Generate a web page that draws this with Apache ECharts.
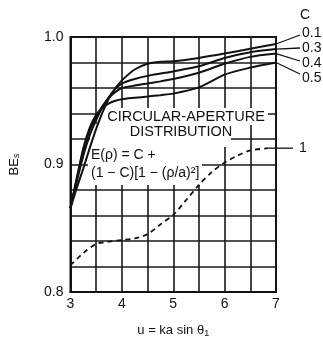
<!DOCTYPE html>
<html>
<head>
<meta charset="utf-8">
<script src="https://cdn.jsdelivr.net/npm/echarts@6/dist/echarts.min.js"></script>
<style>
html,body{margin:0;padding:0;background:#fff;}
#chart{width:323px;height:343px;}
</style>
</head>
<body>
<div id="chart"></div>
<script>
// ---- data ----
const uSolid = [3, 3.125, 3.25, 3.375, 3.5, 3.625, 3.75, 3.875, 4, 4.25, 4.5, 4.75, 5, 5.5, 6, 6.5, 7];
const be01 = [0.866, 0.882, 0.897, 0.913, 0.928, 0.941, 0.952, 0.960, 0.966, 0.9745, 0.979, 0.9805, 0.981, 0.9836, 0.987, 0.9908, 0.9945];
const be03 = [0.866, 0.887, 0.907, 0.923, 0.935, 0.945, 0.953, 0.9595, 0.9635, 0.967, 0.9695, 0.9713, 0.973, 0.977, 0.9835, 0.988, 0.9905];
const be04 = [0.866, 0.889, 0.911, 0.927, 0.937, 0.946, 0.9525, 0.957, 0.960, 0.962, 0.9636, 0.9652, 0.967, 0.972, 0.979, 0.9844, 0.987];
const be05 = [0.866, 0.890, 0.913, 0.929, 0.939, 0.9445, 0.948, 0.950, 0.9512, 0.9523, 0.9533, 0.9544, 0.9556, 0.9605, 0.9705, 0.976, 0.980];
const uDashed = [3, 3.25, 3.5, 3.75, 4, 4.25, 4.5, 4.75, 5, 5.25, 5.5, 5.75, 6, 6.25, 6.5, 6.85];
const be10 = [0.821, 0.8305, 0.8377, 0.8395, 0.8408, 0.842, 0.8454, 0.853, 0.8605, 0.872, 0.884, 0.894, 0.9015, 0.907, 0.911, 0.9128];
const cLabels = ['0.1', '0.3', '0.4', '0.5'];
const xTicks = [3, 4, 5, 6, 7];
const yTicks = [0.8, 0.9, 1.0];

const FONT = 'Liberation Sans, Arial, sans-serif';
const pairs = (xs, ys) => xs.map((x, i) => [x, ys[i]]);

const chart = echarts.init(document.getElementById('chart'));
const solidSeries = [be01, be03, be04, be05].map((ys, i) => ({
  name: 'C=' + cLabels[i],
  type: 'line',
  data: pairs(uSolid, ys),
  smooth: 0.25,
  showSymbol: false,
  lineStyle: { color: '#111', width: 2 },
  z: 3
}));

chart.setOption({
  animation: false,
  backgroundColor: '#fff',
  grid: { left: 67, right: 47, top: 37, bottom: 46, show: true, borderColor: '#111', borderWidth: 2, backgroundColor: 'transparent' },
  xAxis: {
    type: 'value', min: 3, max: 7, interval: 0.5,
    axisLine: { show: true, lineStyle: { color: '#111', width: 2 } },
    axisTick: { show: false },
    splitLine: { show: true, lineStyle: { color: '#1a1a1a', width: 1.6 } },
    axisLabel: {
      color: '#111', fontFamily: FONT, fontSize: 14, margin: 5,
      formatter: v => xTicks.some(t => Math.abs(t - v) < 1e-6) ? String(Math.round(v)) : ''
    },
    name: '{a|u = ka sin θ}{s|1}',
    nameLocation: 'middle', nameGap: 31,
    nameTextStyle: {
      rich: {
        a: { fontFamily: FONT, fontSize: 13, color: '#111' },
        s: { fontFamily: FONT, fontSize: 9, color: '#111', verticalAlign: 'bottom', padding: [6, 0, 0, 0] }
      }
    }
  },
  yAxis: {
    type: 'value', min: 0.8, max: 1.0, interval: 0.02,
    axisLine: { show: true, lineStyle: { color: '#111', width: 2 } },
    axisTick: { show: false },
    splitLine: { show: true, lineStyle: { color: '#1a1a1a', width: 1.6 } },
    axisLabel: {
      color: '#111', fontFamily: FONT, fontSize: 14, margin: 7,
      formatter: v => yTicks.some(t => Math.abs(t - v) < 1e-6) ? v.toFixed(1) : ''
    },
    name: '{a|BE}{s|s}',
    nameLocation: 'middle', nameGap: 49,
    nameTextStyle: {
      rich: {
        a: { fontFamily: FONT, fontSize: 13, color: '#111' },
        s: { fontFamily: FONT, fontSize: 9, color: '#111', verticalAlign: 'bottom', padding: [5, 0, 0, 0] }
      }
    }
  },
  series: solidSeries.concat([{
    name: 'C=1',
    type: 'line',
    data: pairs(uDashed, be10),
    smooth: 0.3,
    showSymbol: false,
    lineStyle: { color: '#111', width: 1.8, type: [5, 4] },
    z: 3
  }])
});

// ---- annotations ----
const ends = [be01, be03, be04, be05].map(ys => chart.convertToPixel({ gridIndex: 0 }, [7, ys[ys.length - 1]]));
const dEnd = chart.convertToPixel({ gridIndex: 0 }, [uDashed[uDashed.length - 1], be10[be10.length - 1]]);
const labelY = [33, 48, 63, 78];
const leaderY = [35, 48, 61, 74];
const g = [];
g.push({ type: 'rect', shape: { x: 100, y: 108, width: 168, height: 17 }, style: { fill: '#fff' }, z: 1 });
g.push({ type: 'rect', shape: { x: 90, y: 124, width: 141, height: 23 }, style: { fill: '#fff' }, z: 1 });
g.push({ type: 'rect', shape: { x: 88, y: 146, width: 114, height: 39 }, style: { fill: '#fff' }, z: 1 });
const txt = (x, y, text, align, size) => ({
  type: 'text', x: x, y: y, z: 5,
  style: { text: text, fill: '#111', font: (size || 14) + 'px ' + FONT, align: align || 'left', verticalAlign: 'middle' }
});
g.push(txt(186, 117, 'CIRCULAR-APERTURE', 'center', 14.5));
g.push(txt(181, 132, 'DISTRIBUTION', 'center', 14.5));
g.push(txt(91, 155, 'E(ρ) = C +', 'left', 14));
g.push(txt(91, 173, '(1 − C)[1 − (ρ/a)²]', 'left', 14));
g.push(txt(305, 15, 'C', 'center', 14));
cLabels.forEach((lab, i) => {
  g.push({ type: 'line', z: 5, shape: { x1: ends[i][0], y1: ends[i][1], x2: 300, y2: leaderY[i] }, style: { stroke: '#111', lineWidth: 1.3 } });
  g.push(txt(302, labelY[i], lab, 'left', 14));
});
g.push({ type: 'line', z: 5, shape: { x1: dEnd[0], y1: dEnd[1], x2: 293, y2: dEnd[1] }, style: { stroke: '#111', lineWidth: 1.3 } });
g.push(txt(299, dEnd[1], '1', 'left', 14));
chart.setOption({ graphic: g });
</script>
</body>
</html>
